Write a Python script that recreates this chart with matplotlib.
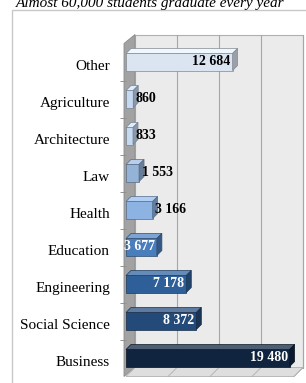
import matplotlib.pyplot as plt
from matplotlib.patches import Polygon, Rectangle
import matplotlib.colors as mcolors
import matplotlib.transforms as mtransforms

categories = ["Business", "Social Science", "Engineering", "Education", "Health",
              "Law", "Architecture", "Agriculture", "Other"]
graduates = [19480, 8372, 7178, 3677, 3166, 1553, 833, 860, 12684]
value_labels = ["19 480", "8 372", "7 178", "3 677", "3 166", "1 553", "833", "860", "12 684"]
bar_colors = ["#10243f", "#244a7a", "#2f5f98", "#4a7dbb", "#8db3e2",
              "#95b3d7", "#c5d9f1", "#c5d9f1", "#dbe5f1"]
title = "Almost 60,000 students graduate every year"

plt.rcParams['font.family'] = ['Liberation Serif', 'DejaVu Serif']

W, H = 306, 383
fig = plt.figure(figsize=(W / 100, H / 100), dpi=100)

# front plane of the plot, in pixels
ax_left, ax_right, ax_top, ax_bottom = 126, 294, 43.5, 376.5
ax = fig.add_axes([ax_left / W, 1 - ax_bottom / H,
                   (ax_right - ax_left) / W, (ax_bottom - ax_top) / H])
n = len(categories)
xmax = 20000
ax.set_xlim(0, xmax)
ax.set_ylim(-0.5, n - 0.5)

# pixel -> data units
px_x = xmax / (ax_right - ax_left)
px_y = n / (ax_bottom - ax_top)
wall_dx, wall_dy = 9 * px_x, 9 * px_y
bar_dx, bar_dy = 5 * px_x, 5 * px_y

# outer frame + title (cut at the top like the source)
fig.patches.append(Rectangle((12 / W, -0.1), 1.1, 1 - 10 / H + 0.1, transform=fig.transFigure,
                             fc='none', ec='#c8c8c8', lw=1))
fig.text(150 / W, 1 - 3 / H, title, ha='center', va='center', fontsize=11, style='italic')

# back wall, left wall, floor
ax.add_patch(Rectangle((wall_dx, -0.5 + wall_dy), xmax, n, fc='#ebebeb', ec='#b0b0b0',
                       lw=0.8, clip_on=False, zorder=0))
ax.add_patch(Polygon([(-2 * px_x, -0.5), (-2 * px_x, n - 0.5), (wall_dx, n - 0.5 + wall_dy),
                      (wall_dx, -0.5 + wall_dy)],
                     closed=True, fc='#a2a2a2', ec='#8c8c8c', lw=0.6, clip_on=False, zorder=1))
ax.add_patch(Polygon([(0, -0.5), (xmax, -0.5), (xmax + wall_dx, -0.5 + wall_dy), (wall_dx, -0.5 + wall_dy)],
                     closed=True, fc='#dedede', ec='#b0b0b0', lw=0.6, clip_on=False, zorder=1))
for g in range(5000, xmax + 1, 5000):
    ax.plot([g + wall_dx] * 2, [-0.5 + wall_dy, n - 0.5 + wall_dy], color='#a6a6a6', lw=0.8,
            clip_on=False, zorder=0.5)
    ax.plot([g, g + wall_dx], [-0.5, -0.5 + wall_dy], color='#b0b0b0', lw=0.6,
            clip_on=False, zorder=1.5)

# bars with a little depth
h = 0.46
for i, (v, c) in enumerate(zip(graduates, bar_colors)):
    base = mcolors.to_rgb(c)
    light = tuple(min(1, x * 0.8 + 0.25) for x in base)
    dark = tuple(x * 0.7 for x in base)
    edge = tuple(x * 0.6 for x in base)
    ax.barh(i, v, height=h, color=c, edgecolor=edge, lw=0.5, zorder=3)
    ax.add_patch(Polygon([(0, i + h / 2), (v, i + h / 2), (v + bar_dx, i + h / 2 + bar_dy),
                          (bar_dx, i + h / 2 + bar_dy)], closed=True, fc=light, ec=edge,
                         lw=0.5, clip_on=False, zorder=3))
    ax.add_patch(Polygon([(v, i - h / 2), (v, i + h / 2), (v + bar_dx, i + h / 2 + bar_dy),
                          (v + bar_dx, i - h / 2 + bar_dy)], closed=True, fc=dark, ec=edge,
                         lw=0.5, clip_on=False, zorder=3))
    if v > 3500:
        col = 'black' if categories[i] == "Other" else 'white'
        ax.text(v - 2 * px_x, i + 0.02, value_labels[i], ha='right', va='center',
                fontsize=10, fontweight='bold', color=col, zorder=5)
    else:
        ax.text(v + bar_dx * 0.5, i + 0.02, value_labels[i], ha='left', va='center',
                fontsize=10, fontweight='bold', color='black', zorder=5)

for s in ax.spines.values():
    s.set_visible(False)
ax.set_xticks([])
ax.set_yticks(range(n))
ax.set_yticklabels(categories, fontsize=11)
ax.set_yticks([i + 0.5 for i in range(n - 1)], minor=True)
ax.tick_params(axis='y', which='major', length=0, pad=11.5)
ax.tick_params(axis='y', which='minor', length=4, color='#909090', width=0.7)
shift = mtransforms.ScaledTranslation(0, -3 / 100, fig.dpi_scale_trans)
for lab in ax.get_yticklabels():
    lab.set_transform(lab.get_transform() + shift)
ax.patch.set_visible(False)

fig.savefig("out.png", dpi=100)
